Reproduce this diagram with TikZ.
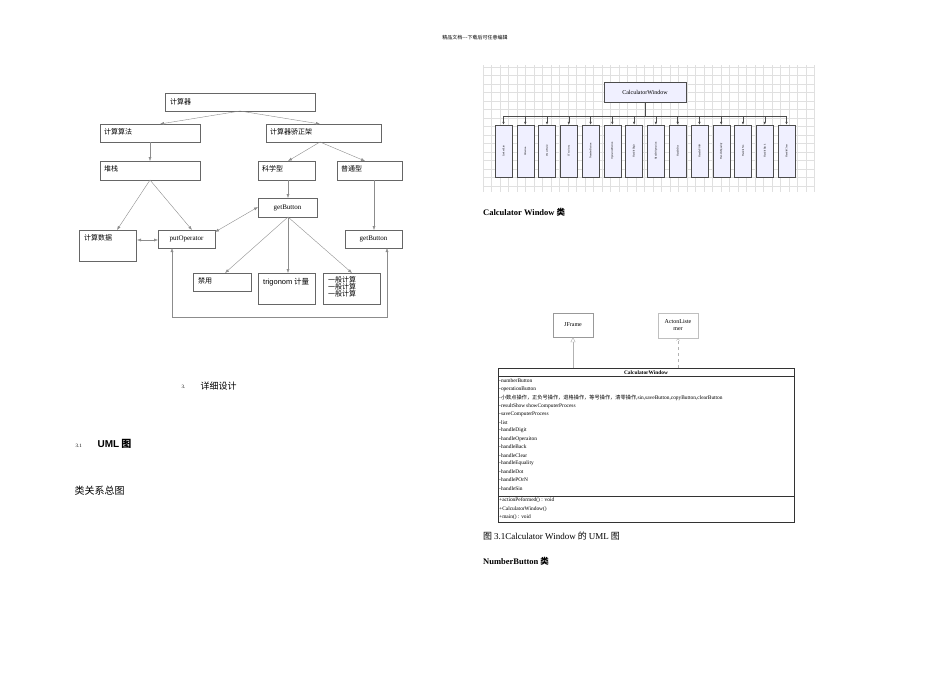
\documentclass[tikz,border=0pt]{standalone}
\usepackage{fontspec}
\setmainfont{Liberation Serif}
\newfontfamily\cjk{Noto Sans CJK SC}
\newfontfamily\sans{Liberation Sans}
\usetikzlibrary{arrows.meta}
\begin{document}
\begin{tikzpicture}[x=1pt,y=-1pt,
  bx/.style={draw=black!60,line width=0.5pt},
  lb/.style={font=\cjk\fontsize{7}{8}\selectfont,anchor=north west,inner sep=0pt},
  ar/.style={draw=black!45,line width=0.4pt,-{Latex[length=4pt,width=3pt]}},
  ar2/.style={draw=black!45,line width=0.4pt,{Latex[length=4pt,width=3pt]}-{Latex[length=4pt,width=3pt]}},
  vb/.style={draw=black!70,fill=blue!6,line width=0.4pt,minimum width=17pt,minimum height=52pt,inner sep=0pt},
  vt/.style={font=\fontsize{2.6}{3}\selectfont,rotate=90},
  um/.style={font=\fontsize{5.4}{6}\selectfont,anchor=west,inner sep=0pt}]
\useasboundingbox (0,0) rectangle (950,672);
\node[font=\cjk\fontsize{5}{6}\selectfont] (hdr) at (475,38) {精品文档---下载后可任意编辑};
% left diagram
\draw[bx] (165,93) rectangle (315,111); \node[lb] (t1) at (170,98) {计算器};
\draw[bx] (100,124) rectangle (200,142); \node[lb] (t2) at (104,128) {计算算法};
\draw[bx] (266,124) rectangle (381,142); \node[lb] (t3) at (270,128) {计算器骄正架};
\draw[bx] (100,161) rectangle (200,180); \node[lb] (t4) at (104,165) {堆栈};
\draw[bx] (258,161) rectangle (315,180); \node[lb] (t5) at (262,165) {科学型};
\draw[bx] (337,161) rectangle (402,180); \node[lb] (t6) at (341,165) {普通型};
\draw[bx] (258,198) rectangle (317,217); \node[font=\fontsize{7}{8}\selectfont] (t7) at (287.5,207.5) {getButton};
\draw[bx] (79,230) rectangle (136,261); \node[lb] (t8) at (84,234) {计算数据};
\draw[bx] (158,230) rectangle (215,248); \node[font=\fontsize{7}{8}\selectfont] (t9) at (186.5,239) {putOperator};
\draw[bx] (345,230) rectangle (402,248); \node[font=\fontsize{7}{8}\selectfont] (t10) at (373.5,239) {getButton};
\draw[bx] (193,273) rectangle (251,291); \node[lb] (t11) at (198,277) {禁用};
\draw[bx] (258,273) rectangle (315,304); \node[lb,font=\cjk\fontsize{7.5}{8}\selectfont] (t12) at (263,278) {{\sans trigonom} 计量};
\draw[bx] (323,273) rectangle (380,304); \node[lb,align=left,font=\cjk\fontsize{7}{7.3}\selectfont] (t13) at (328,276) {一般计算\\一般计算\\一般计算};
\draw[ar] (240,111) -- (160,124);
\draw[ar] (240,111) -- (320,124);
\draw[ar] (150,142) -- (150,161);
\draw[ar] (320,142) -- (288,161);
\draw[ar] (320,142) -- (365,161);
\draw[ar] (150,180) -- (117,230);
\draw[ar] (150,180) -- (192,230);
\draw[ar] (288,180) -- (288,198);
\draw[ar2] (258,207) -- (215,232);
\draw[ar2] (137,240) -- (158,240);
\draw[ar] (288,217) -- (225,273);
\draw[ar] (288,217) -- (288,273);
\draw[ar] (288,217) -- (352,273);
\draw[ar] (374,180) -- (374,230);
\draw[ar] (172,317) -- (172,248);
\draw[ar] (172,317) -- (387,317) -- (387,248);
% texts left
\node[font=\fontsize{5}{6}\selectfont,anchor=west] (n3) at (178,387) {3.};
\node[font=\cjk\fontsize{9}{10}\selectfont,anchor=west] (n3t) at (197,386) {详细设计};
\node[font=\fontsize{5}{6}\selectfont,anchor=west] (n31) at (72,446) {3.1};
\node[font=\cjk\bfseries\fontsize{10}{11}\selectfont,anchor=west] (n31t) at (94,444) {{\sans\bfseries UML} 图};
\node[font=\cjk\fontsize{10}{11}\selectfont,anchor=west] (lz) at (71,491) {类关系总图};
% grid diagram
\foreach \gx in {0,...,39}{\draw[black!12,line width=0.3pt] ({483+8.5*\gx},65) -- ({483+8.5*\gx},192);}
\foreach \gy in {0,...,14}{\draw[black!12,line width=0.3pt] (483,{67+8.5*\gy}) -- (815,{67+8.5*\gy});}
\node[draw=black!70,fill=blue!6,minimum width=82pt,minimum height=20pt,inner sep=0pt,font=\fontsize{6}{7}\selectfont] (cw) at (645,92) {CalculatorWindow};
\coordinate (jn) at (645,116);
\draw[black!70,line width=0.5pt] (cw.south) -- (jn);
\draw[black!70,line width=0.5pt] (503.5,116) -- (786.5,116);
\foreach \i/\t in {0/LinkedList,1/JButton,2/JTextField,3/JTextArea,4/NumberButton,5/OperationButton,6/HandleDigit,7/HandleOperation,8/HandleDot,9/HandlePOrN,10/HandleEquality,11/HandleSin,12/HandleBack,13/HandleClear}{
  \node[vb] (v\i) at ({503.5+21.77*\i},151) {};
  \node[vt] (vt\i) at (v\i) {\t};
  \draw[black!70,line width=0.5pt,-{Latex[length=3pt,width=2.5pt]}] ({503.5+21.77*\i},116) -- (v\i.north);
}
\node[font=\cjk\bfseries\fontsize{8.5}{10}\selectfont,anchor=west,inner sep=0pt] (cap1) at (483,212) {{\rmfamily\bfseries Calculator Window} 类};
% UML
\node[draw=black!40,minimum width=40pt,minimum height=24pt,inner sep=0pt,font=\fontsize{6}{7}\selectfont] (jf) at (573,325) {JFrame};
\node[draw=black!25,minimum width=40pt,minimum height=25pt,inner sep=0pt,align=center,font=\fontsize{6}{7}\selectfont] (al) at (678,325.5) {ActonListe\\mer};
\draw[black!80,line width=0.5pt] (498,368) rectangle (794,522);
\draw[black!80,line width=0.4pt] (498,376.5) -- (794,376.5);
\draw[black!80,line width=0.4pt] (498,496) -- (794,496);
\node[font=\bfseries\fontsize{5.4}{6}\selectfont] (ct) at (646,372.3) {CalculatorWindow};
\draw[black!30,line width=0.4pt,-{Triangle[open,length=5pt,width=5pt]}] (573,368) -- (jf.south);
\draw[black!30,line width=0.4pt,dashed,-{Straight Barb[length=2pt,width=3pt]}] (678,368) -- (al.south);
\foreach \k/\t in {0/-numberButton,1/-operationButton,3/-resultShow\,showComputerProcess,4/-saveComputerProcess,5/-list,6/-handleDigit,7/-handleOperaiton,8/-handleBack,9/-handleClear,10/-handleEquality,11/-handleDot,12/-handlePOrN,13/-handleSin}{
  \node[um] (u\k) at (499,{381+8.25*\k}) {\t};
}
\node[um,font=\cjk\fontsize{5.2}{6}\selectfont] (u2) at (499,{381+8.25*2}) {-小数点操作，正负号操作，退格操作，等号操作，清零操作{\rmfamily\fontsize{5.4}{6}\selectfont ,sin,saveButton,copyButton,clearButton}};
\node[um] (m0) at (499,500.5) {+actionPeformed() : void};
\node[um] (m1) at (499,509) {+CalculatorWindow()};
\node[um] (m2) at (499,517.5) {+main() : void};
\node[font=\cjk\fontsize{9}{10}\selectfont,anchor=west,inner sep=0pt] (cap2) at (483,536) {图 {\rmfamily 3.1Calculator Window} 的 {\rmfamily UML} 图};
\node[font=\cjk\bfseries\fontsize{8.5}{10}\selectfont,anchor=west,inner sep=0pt] (cap3) at (483,561) {{\rmfamily\bfseries NumberButton} 类};
\end{tikzpicture}
\end{document}
